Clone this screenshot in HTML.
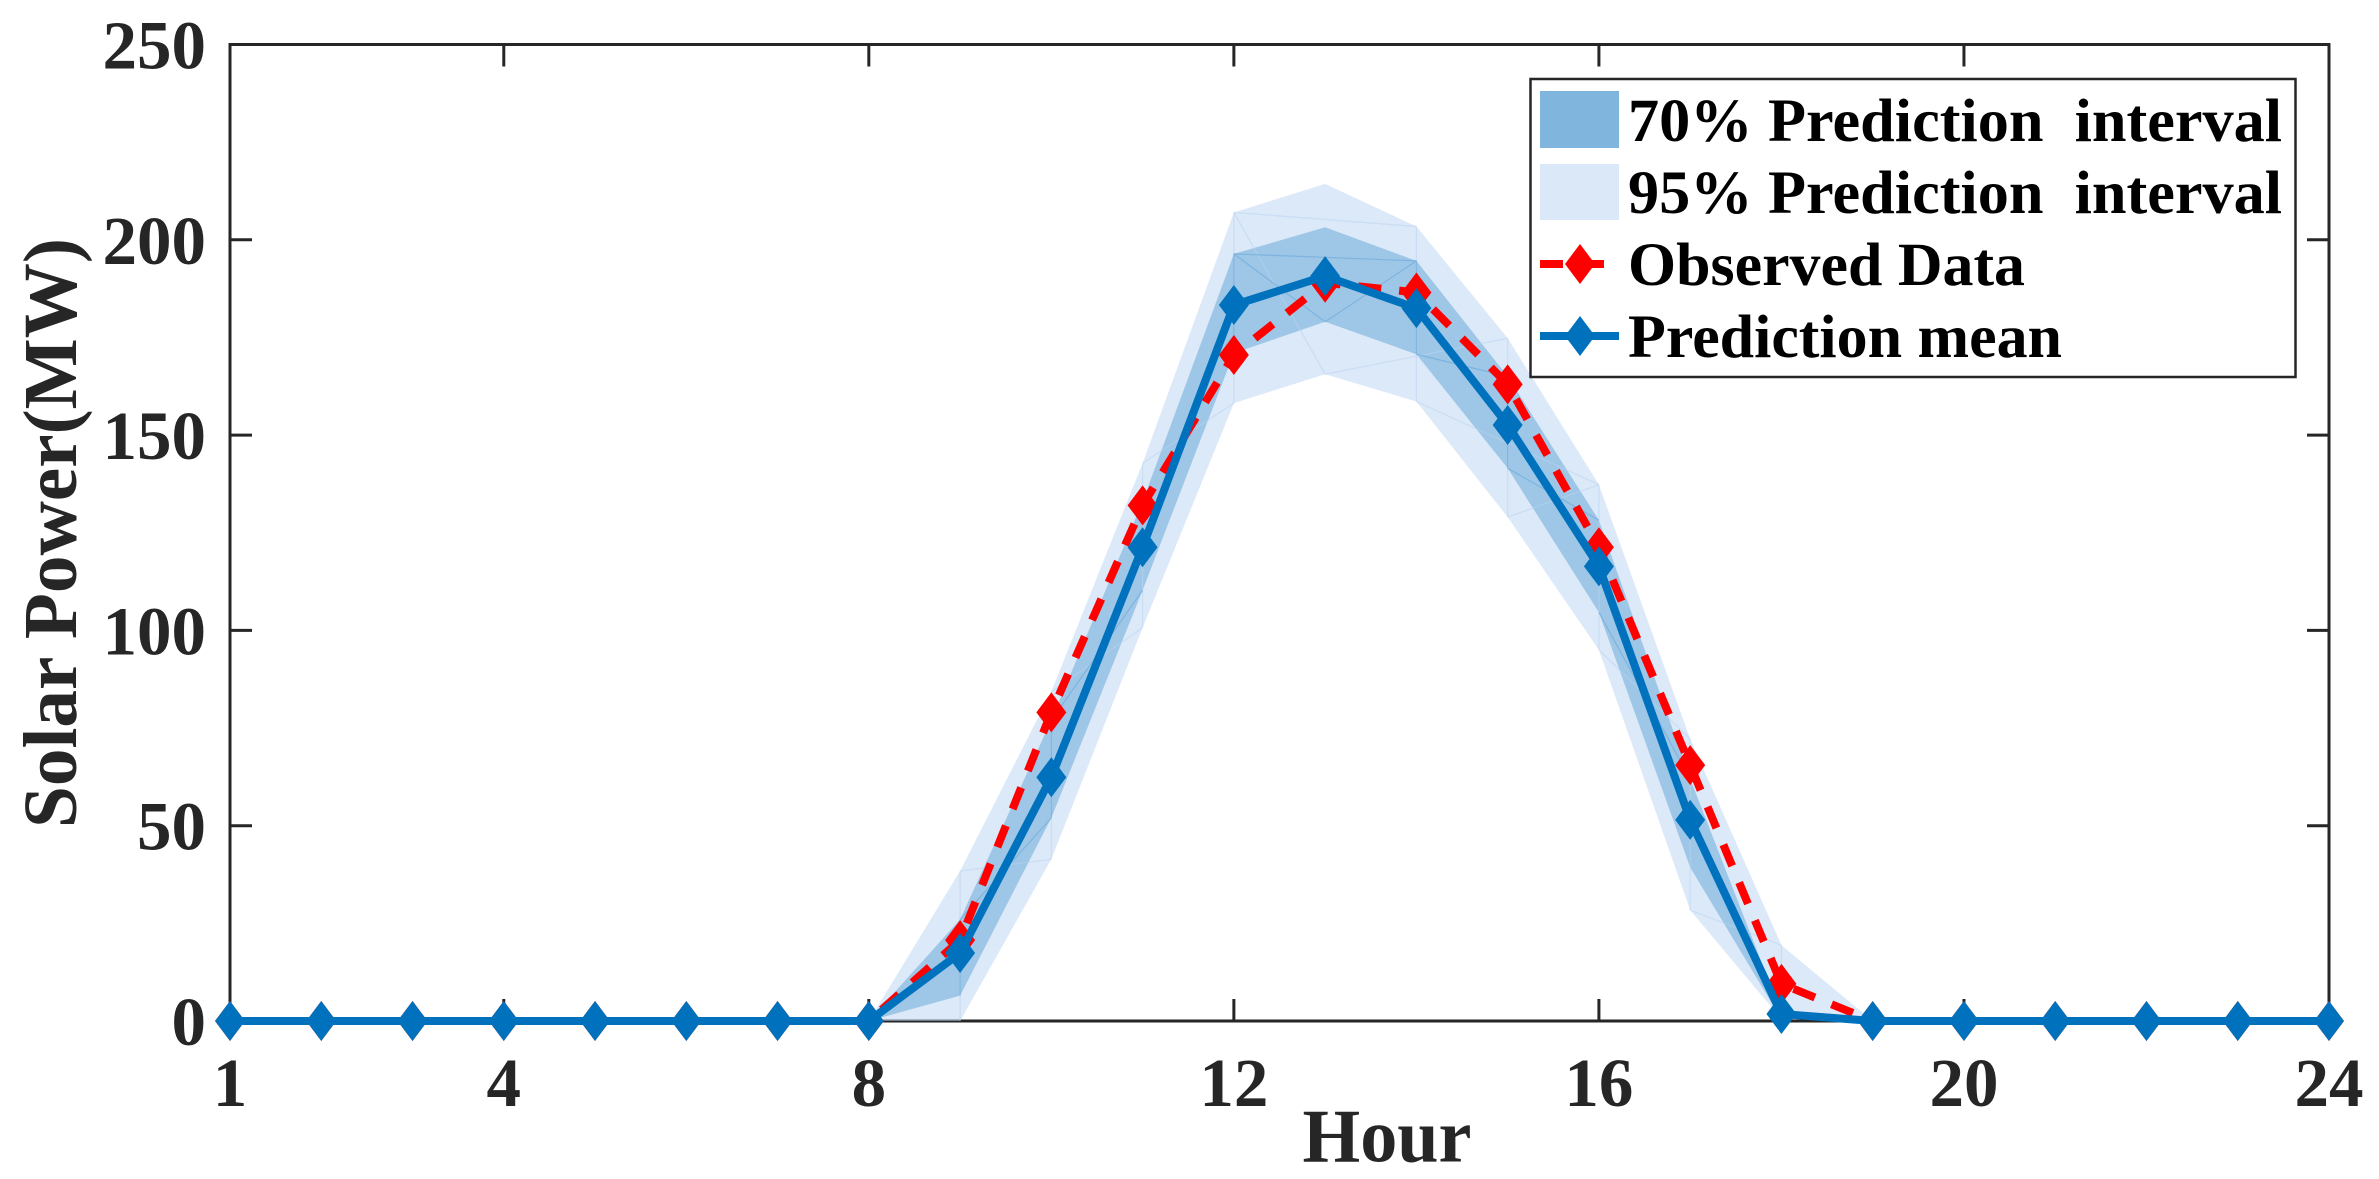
<!DOCTYPE html>
<html>
<head>
<meta charset="utf-8">
<title>Solar Power Prediction Chart</title>
<style>
html,body{margin:0;padding:0;background:#fff;width:2379px;height:1179px;overflow:hidden}
svg{display:block}
text{font-family:"Liberation Serif",serif;font-weight:bold}
</style>
</head>
<body>
<svg id="chart" xmlns="http://www.w3.org/2000/svg" width="2379" height="1179" viewBox="0 0 2379 1179">
  <rect x="0" y="0" width="2379" height="1179" fill="#fff"/>
  <g id="axes"></g>
  <g id="bands"></g>
  <g id="series"></g>
  <text x="1387" y="1161.5" font-size="76" text-anchor="middle" fill="#262626" textLength="169" lengthAdjust="spacingAndGlyphs">Hour</text>
  <text transform="translate(76,533) rotate(-90)" x="0" y="0" font-size="76" text-anchor="middle" fill="#262626" textLength="590" lengthAdjust="spacingAndGlyphs">Solar Power(MW)</text>
  <g>
    <rect x="1530.5" y="79" width="765" height="298" fill="#fff" stroke="#262626" stroke-width="2.5"/>
    <rect x="1540" y="91" width="79" height="57" fill="#80B6DE"/>
    <text x="1628" y="141" font-size="61" fill="#000" xml:space="preserve" style="white-space:pre" textLength="654" lengthAdjust="spacingAndGlyphs">70% Prediction  interval</text>
    <rect x="1540" y="164" width="79" height="56" fill="#DBE8F8"/>
    <text x="1628" y="213" font-size="61" fill="#000" xml:space="preserve" style="white-space:pre" textLength="654" lengthAdjust="spacingAndGlyphs">95% Prediction  interval</text>
    <line x1="1540" y1="264" x2="1604" y2="264" stroke="#FF0000" stroke-width="8" stroke-dasharray="23 18"/>
    <polygon points="1580,244 1595,264 1580,284 1565,264" fill="#FF0000"/>
    <text x="1628" y="285" font-size="61" fill="#000" textLength="397" lengthAdjust="spacingAndGlyphs">Observed Data</text>
    <line x1="1540" y1="336" x2="1619" y2="336" stroke="#0072BD" stroke-width="8"/>
    <polygon points="1580,316 1595,336 1580,356 1565,336" fill="#0072BD"/>
    <text x="1628" y="357" font-size="61" fill="#000" textLength="434" lengthAdjust="spacingAndGlyphs">Prediction mean</text>
  </g>
</svg>
<script>
var hours = [1,2,3,4,5,6,7,8,9,10,11,12,13,14,15,16,17,18,19,20,21,22,23,24];
var observed = [0,0,0,0,0,0,0,0,20.7,79,132,170.5,189,186.5,163,121.3,65.5,9.5,0,0,0,0,0,0];
var predMean = [0,0,0,0,0,0,0,0,17.4,62.4,121.3,183.3,190.7,182.5,152.6,116.4,51.5,1.8,0,0,0,0,0,0];
var bandHours = [8,9,10,11,12,13,14,15,16,17,18,19];
var upper95 = [0,38.4,84.3,142.8,207,214.3,203.4,174.8,137.3,72.2,19.4,0];
var lower95 = [0,0,41.4,100.7,158.2,165.6,158.6,129,95,28.4,0.5,0];
var upper70 = [0,26,77,133,196.4,203.2,194.6,165,128.2,62,2,0];
var lower70 = [0,6.5,52,110.3,171,179,170.7,141.5,104.6,39.3,0.5,0];
var edges95 = [[9,'u',9,'l'],[10,'u',10,'l'],[11,'u',11,'l'],[12,'u',12,'l'],[14,'u',14,'l'],[15,'u',15,'l'],[16,'u',16,'l'],[17,'u',17,'l'],[18,'u',18,'l'],[12,'u',14,'u'],[12,'u',13,'l'],[13,'l',15,'u'],[12,'l',11,'u'],[11,'l',10,'u'],[10,'l',9,'u'],[14,'l',16,'u'],[15,'l',16,'u'],[16,'l',17,'u'],[17,'l',18,'u']];
var edges70 = [[12,'u',12,'l'],[14,'u',14,'l'],[15,'u',15,'l'],[9,'u',9,'l'],[10,'u',10,'l'],[12,'u',14,'u'],[12,'u',13,'l'],[13,'l',14,'u'],[14,'l',15,'u'],[15,'l',16,'u'],[16,'l',17,'u'],[10,'l',9,'u'],[11,'l',10,'u']];
var xTicks = [1,4,8,12,16,20,24];
var yTicks = [0,50,100,150,200,250];

var NS = 'http://www.w3.org/2000/svg';
var L = 230, R = 2329, T = 44.5, B = 1021;
function sx(h){ return L + (h - 1) * (R - L) / 23; }
function sy(v){ return B - v * (B - T) / 250; }
function mk(tag, attrs, parent){
  var e = document.createElementNS(NS, tag);
  for (var k in attrs) e.setAttribute(k, attrs[k]);
  parent.appendChild(e);
  return e;
}
var axes = document.getElementById('axes');
var bands = document.getElementById('bands');
var series = document.getElementById('series');
var INK = '#262626';

var frame = mk('rect', {x:L, y:T, width:R-L, height:B-T, fill:'none', stroke:INK, 'stroke-width':3}, axes);



xTicks.forEach(function(t){
  var x = sx(t);
  var a = mk('line', {x1:x, y1:B, x2:x, y2:B-22, stroke:INK, 'stroke-width':3}, axes);
  
  
  var b = mk('line', {x1:x, y1:T, x2:x, y2:T+22, stroke:INK, 'stroke-width':3}, axes);
  
  
  var l = mk('text', {x:x, y:1106, 'font-size':69, 'text-anchor':'middle', fill:INK}, axes);
  l.textContent = String(t);
  
  
});
yTicks.forEach(function(t){
  var y = sy(t);
  var a = mk('line', {x1:L, y1:y, x2:L+22, y2:y, stroke:INK, 'stroke-width':3}, axes);
  
  
  var b = mk('line', {x1:R, y1:y, x2:R-22, y2:y, stroke:INK, 'stroke-width':3}, axes);
  
  
  var l = mk('text', {x:206, y:y+24, 'font-size':69, 'text-anchor':'end', fill:INK}, axes);
  l.textContent = String(t);
  
  
});

function bandPoints(up, lo){
  var p = [];
  bandHours.forEach(function(h,i){ p.push(sx(h).toFixed(1)+','+sy(up[i]).toFixed(1)); });
  for (var i = bandHours.length-1; i >= 0; i--) p.push(sx(bandHours[i]).toFixed(1)+','+sy(lo[i]).toFixed(1));
  return p.join(' ');
}
function edgePos(h, side, up, lo){
  var i = bandHours.indexOf(h);
  return [sx(h), sy(side === 'u' ? up[i] : lo[i])];
}
var b95 = mk('polygon', {points:bandPoints(upper95, lower95), fill:'#B9D3F1', 'fill-opacity':0.5}, bands);


var b70 = mk('polygon', {points:bandPoints(upper70, lower70), fill:'#80B6DE', 'fill-opacity':0.68}, bands);


edges95.forEach(function(e){
  var a = edgePos(e[0], e[1], upper95, lower95), b = edgePos(e[2], e[3], upper95, lower95);
  var ln = mk('line', {x1:a[0], y1:a[1], x2:b[0], y2:b[1], stroke:'#B9D3F1', 'stroke-width':1.2, 'stroke-opacity':0.55}, bands);
  
  
});
edges70.forEach(function(e){
  var a = edgePos(e[0], e[1], upper70, lower70), b = edgePos(e[2], e[3], upper70, lower70);
  var ln = mk('line', {x1:a[0], y1:a[1], x2:b[0], y2:b[1], stroke:'#6FACDC', 'stroke-width':1.2, 'stroke-opacity':0.7}, bands);
  
  
});

function linePts(vals){
  return hours.map(function(h,i){ return sx(h).toFixed(1)+','+sy(vals[i]).toFixed(1); }).join(' ');
}
function diamond(h, v, color, parent){
  var x = sx(h), y = sy(v);
  return mk('polygon', {points:[x,y-20, x+15,y, x,y+20, x-15,y].join(' '), fill:color}, parent);
}
var obsLine = mk('polyline', {points:linePts(observed), fill:'none', stroke:'#FF0000', 'stroke-width':8, 'stroke-dasharray':'23 18', 'stroke-linejoin':'miter'}, series);


hours.forEach(function(h,i){
  var m = diamond(h, observed[i], '#FF0000', series);
  
  
});
var meanLine = mk('polyline', {points:linePts(predMean), fill:'none', stroke:'#0072BD', 'stroke-width':8, 'stroke-linejoin':'miter'}, series);


hours.forEach(function(h,i){
  var m = diamond(h, predMean[i], '#0072BD', series);
  
  
});
</script>
</body>
</html>
